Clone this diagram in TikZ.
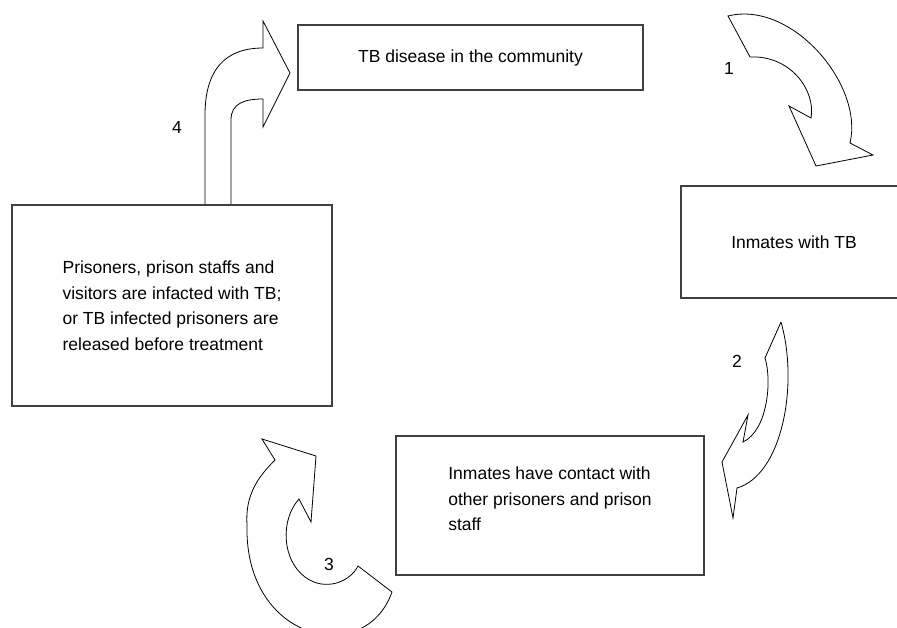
\documentclass[tikz,border=0pt]{standalone}
\usepackage{fontspec}
\setmainfont{Liberation Sans}
\tikzset{
  box/.style={rectangle, draw=black!75, line width=1.2pt, inner sep=0pt,
    align=left, font=\fontsize{17.5}{25.5}\selectfont},
  bigarrow/.style={draw, line width=0.8pt, line join=miter},
  num/.style={font=\fontsize{17.5}{21}\selectfont}
}
\begin{document}
\begin{tikzpicture}[x=1pt, y=-1pt]
  \useasboundingbox (0,0) rectangle (897,627);
  \clip (0,0) rectangle (897,627);
  % curved block arrows
  \draw[bigarrow] (728,16) .. controls (792,0) and (864,85) .. (850,143)
    -- (873,155) -- (816,166) -- (789,106) -- (811,118)
    .. controls (816,90) and (790,55) .. (750,57) -- cycle;
  \draw[bigarrow] (781,322) -- (765,358) .. controls (772,380) and (768,430)
    .. (743,442) -- (748,415) -- (722,462) -- (733,518) -- (737,488)
    .. controls (782,475) and (799,385) .. (781,322);
  \draw[bigarrow] (262,439) -- (316,456) -- (311,522) -- (299,499)
    .. controls (280,520) and (282,560) .. (305,577)
    .. controls (325,592) and (350,582) .. (358,566) -- (392,592)
    .. controls (365,668) and (244,642) .. (247,525)
    .. controls (245,495) and (258,477) .. (275,460) -- cycle;
  \draw[bigarrow] (205,205) -- (205,115) .. controls (205,70) and (225,48)
    .. (263,48) -- (263,21) -- (290,73) -- (263,127) -- (263,99)
    .. controls (245,99) and (231,103) .. (231,120) -- (231,205);
  % boxes
  \node (community) at (470.5,57.5) [box, minimum width=345pt,
    minimum height=65pt] {TB disease in the community};
  \node (inmates) at (794,242) [box, minimum width=226pt,
    minimum height=112pt] {Inmates with TB};
  \node (contact) at (550,505.5) [box, minimum width=308pt,
    minimum height=139pt] {Inmates have contact with\\other prisoners and prison\\staff\\[-12pt]\mbox{}};
  \node (spread) at (172,305.5) [box, minimum width=320pt,
    minimum height=201pt] {Prisoners, prison staffs and\\visitors are infacted with TB;\\or TB infected prisoners are\\released before treatment};
  % step numbers
  \node (n1) at (729,68) [num] {1};
  \node (n2) at (737,361) [num] {2};
  \node (n3) at (329,564) [num] {3};
  \node (n4) at (177,127) [num] {4};
\end{tikzpicture}
\end{document}
